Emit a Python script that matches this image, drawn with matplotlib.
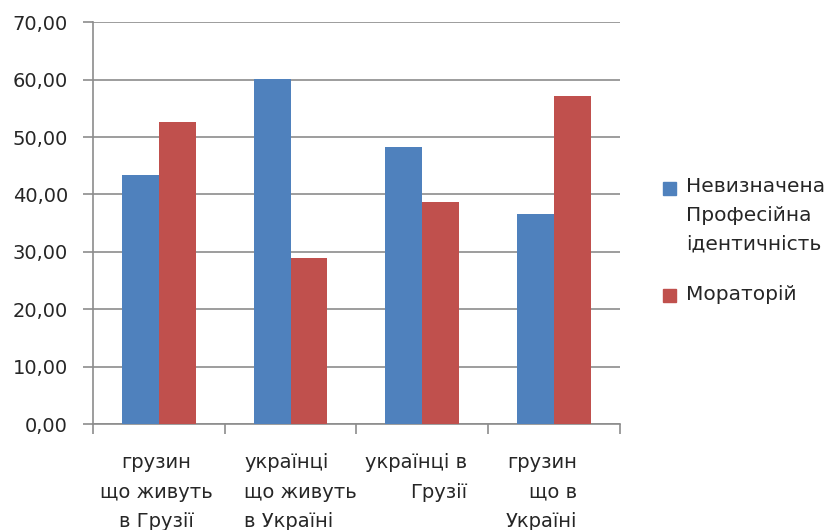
import matplotlib
matplotlib.use("Agg")
import matplotlib.pyplot as plt
from matplotlib.patches import Rectangle
import matplotlib.transforms as mtransforms
import numpy as np

categories = ["грузин\nщо живуть\nв Грузії", "українці\nщо живуть\nв Україні",
              "українці в\nГрузії", "грузин\nщо в\nУкраїні"]
series_names = ["Невизначена\nПрофесійна\nідентичність", "Мораторій"]
undefined_vals = [43.3, 60.1, 48.3, 36.6]
moratorium_vals = [52.6, 28.9, 38.7, 57.1]
yticks = [0, 10, 20, 30, 40, 50, 60, 70]

# label styling (Excel-like wrapping quirks)
label_align = ["center", "left", "right", "right"]
label_shift = [-0.02, 0.075, -0.05, -0.1]

plt.rcParams['font.family'] = ['DejaVu Sans']
TXT = "#262626"
GRID = "#8c8c8c"
colors = ["#4F81BD", "#C0504D"]

fig = plt.figure(figsize=(8.29, 5.30), dpi=100)
ax = fig.add_axes([0.112, 0.2, 0.636, 0.758])

x = np.arange(len(categories))
w = 0.28
ax.bar(x - w/2, undefined_vals, w, color=colors[0], zorder=3)
ax.bar(x + w/2, moratorium_vals, w, color=colors[1], zorder=3)

ax.set_xlim(-0.5, len(categories) - 0.5)
ax.set_ylim(0, 70)
ax.set_yticks(yticks)
ax.set_yticklabels([f"{v:.2f}".replace(".", ",") for v in yticks], fontsize=14, color=TXT)
ax.yaxis.grid(True, color=GRID, linewidth=1.2, zorder=0)
ax.set_xticks(np.arange(-0.5, len(categories)))
ax.set_xticklabels([])
ax.tick_params(axis='x', length=7, color=GRID, width=1.2)
ax.tick_params(axis='y', length=7, color=GRID, width=1.2, pad=11)

trans = mtransforms.blended_transform_factory(ax.transData, ax.transAxes)
for xi, lab, al, sh in zip(x, categories, label_align, label_shift):
    ax.text(xi + sh, -0.073, lab, transform=trans, ha="center", va="top",
            multialignment=al, fontsize=14, color=TXT, linespacing=1.7)

for s in ["top", "right"]:
    ax.spines[s].set_visible(False)
for s in ["left", "bottom"]:
    ax.spines[s].set_color(GRID)
    ax.spines[s].set_linewidth(1.2)

# legend (drawn manually so the marker sits at the first line)
W, H = 829, 530
leg_y = [188, 295]
for name, c, yc in zip(series_names, colors, leg_y):
    fig.patches.append(Rectangle((663 / W, 1 - (yc + 6.5) / H), 13 / W, 13 / H,
                                 transform=fig.transFigure, color=c))
    fig.text(686 / W, 1 - (yc - 10.5) / H, name, ha="left", va="top", fontsize=14.5,
             color=TXT, linespacing=1.65)

fig.savefig("out.png", dpi=100)
